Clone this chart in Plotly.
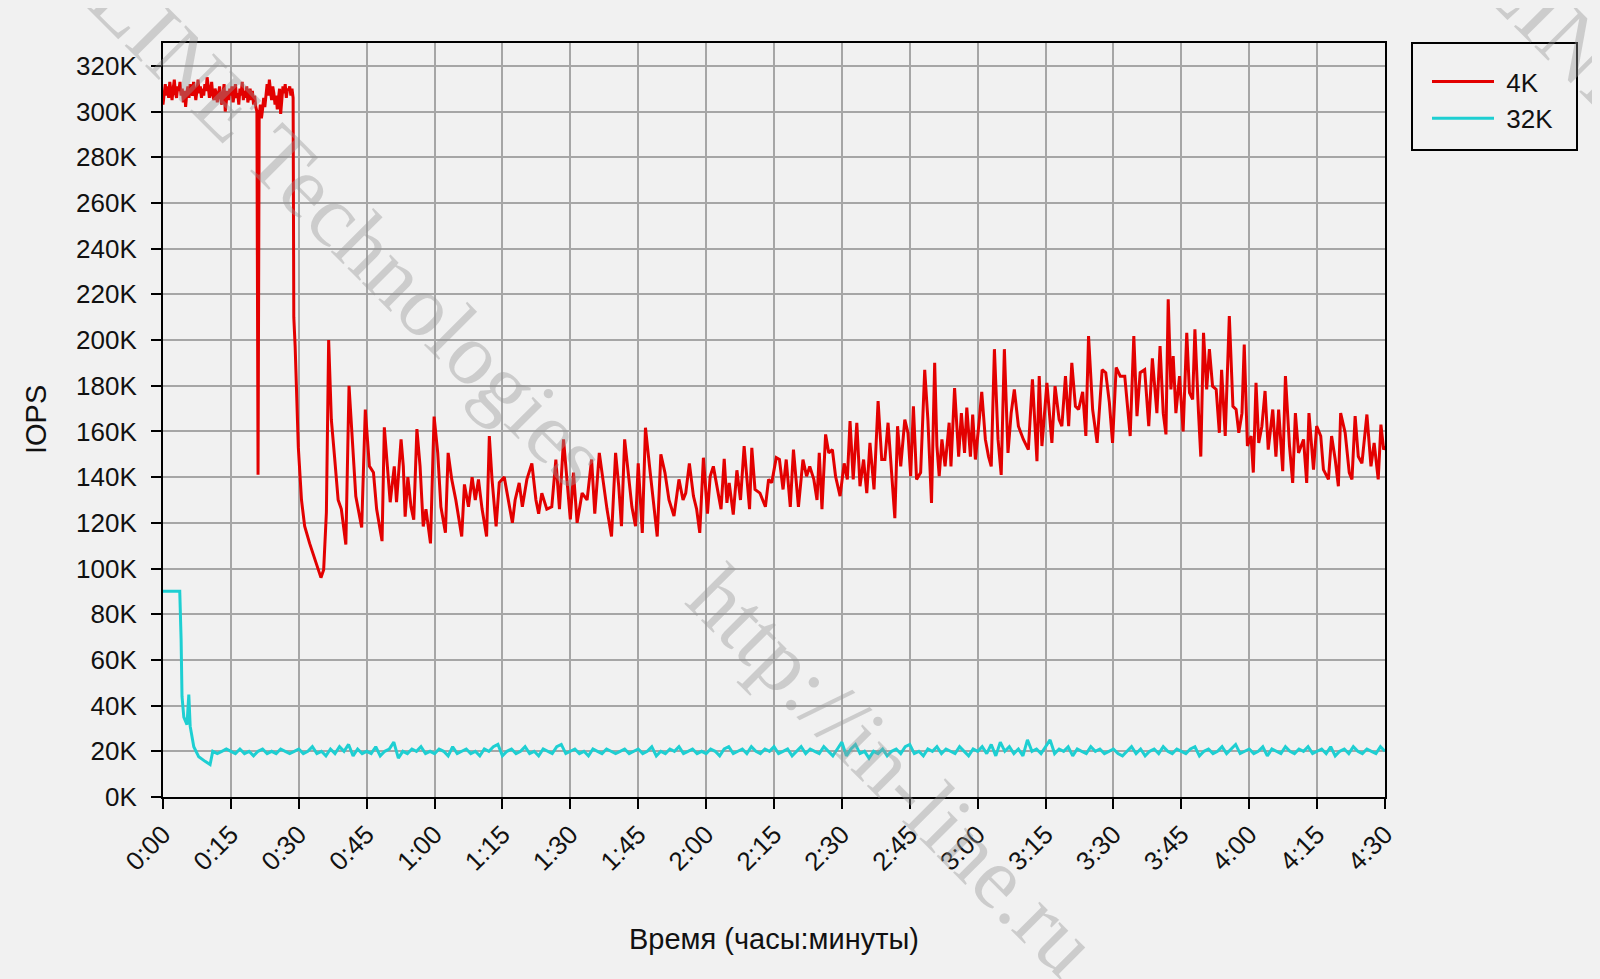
import plotly.graph_objects as go

# ---------------- data ----------------
tick_minutes = [0, 15, 30, 45, 60, 75, 90, 105, 120, 135, 150, 165, 180, 195, 210, 225, 240, 255, 270]
tick_labels = ["0:00", "0:15", "0:30", "0:45", "1:00", "1:15", "1:30", "1:45", "2:00", "2:15",
               "2:30", "2:45", "3:00", "3:15", "3:30", "3:45", "4:00", "4:15", "4:30"]
y_ticks = [0, 20, 40, 60, 80, 100, 120, 140, 160, 180, 200, 220, 240, 260, 280, 300, 320]
y_labels = ["0K", "20K", "40K", "60K", "80K", "100K", "120K", "140K", "160K", "180K", "200K",
            "220K", "240K", "260K", "280K", "300K", "320K"]

# 4K series, first part: one reading every 0.25 min from 0:00 (IOPS, thousands)
iops_4k_top = [
    303, 309, 312, 307, 311, 306, 313, 309, 305, 310, 314, 308, 306, 311, 309, 313, 307, 310, 304, 309,
    302, 308, 311, 306, 312, 309, 307, 313, 310, 305, 309, 314, 308, 311, 306, 310, 307, 312, 309, 315,
    311, 306, 309, 313, 307, 305, 310, 308, 304, 309, 311, 306, 303, 308, 312, 300, 306, 309, 305, 310,
    307, 311, 304, 309, 312, 306, 308, 303, 310, 307, 313, 305, 309, 306, 311, 304, 308, 310, 305, 309,
    303, 307, 302, 300, 141, 298, 303, 297, 301, 306, 302, 309, 312, 307, 314, 309, 305, 311, 308, 303,
    307, 301, 306, 310, 299, 305, 311, 308, 312, 306, 310, 309, 311, 307, 310, 306,
]
minutes_4k_top = [i * 0.25 for i in range(len(iops_4k_top))]

# 4K series, rest: time (minutes) and IOPS (thousands)
minutes_4k_rest = [
    28.9,
    29.2, 29.9, 30.6, 31.3, 32.4, 33.5, 34.9, 35.5, 36.1, 36.6, 37.2, 37.9, 38.7, 39.4, 40.4, 41.1,
    41.9, 42.6, 43.9, 44.7, 45.6, 46.5, 47.2, 48.4, 48.9, 49.6, 50.2, 51.1, 51.6, 52.6, 53.1, 53.5,
    54.1, 54.8, 55.4, 56.1, 56.8, 57.5, 58.1, 59.1, 59.9, 60.7, 61.4, 62.4, 63.0, 63.8, 64.7, 66.0,
    66.6, 67.5, 68.3, 69.0, 69.7, 70.5, 71.5, 72.1, 72.7, 73.6, 74.3, 75.4,
    76.3, 77.2, 77.8, 78.7, 79.4, 80.4, 81.5, 82.4, 83.0, 83.7, 84.8, 85.9, 86.8, 87.6, 88.5, 89.3,
    90.0, 90.7, 91.5, 92.6, 93.7, 94.7, 95.4, 96.4, 97.4, 98.1, 99.1, 100.0, 100.7, 101.3, 102.0,
    102.8, 103.6, 104.4, 105.0, 105.9, 106.6, 107.5, 108.5, 109.2, 110.0, 110.9, 111.8, 112.9,
    114.0, 114.9, 115.5, 116.3, 117.2, 117.9, 118.6, 119.4, 120.3, 120.9, 121.6, 122.3, 123.3,
    124.0, 124.6, 125.1, 126.0, 126.8, 127.6, 128.4, 129.1, 129.6, 130.1, 130.8, 131.9, 133.1,
    133.8, 134.5, 135.5, 136.2, 137.0, 137.7, 138.6, 139.3, 140.4, 141.4, 142.2, 142.9, 143.8,
    144.5, 145.0, 145.6, 146.4, 147.1, 147.9, 148.6, 149.6, 150.5, 151.2, 151.8, 152.5, 153.3,
    154.0, 154.8, 155.5, 156.2, 157.1, 158.0, 158.8, 159.5, 160.2, 161.0, 161.7, 162.3, 163.0,
    163.9, 164.6, 165.2, 165.8, 166.5, 167.4, 168.3, 169.0, 169.8, 170.5,
    171.0, 171.5, 172.1, 172.8, 173.7, 174.1, 174.9, 175.8, 176.4, 177.1, 177.6, 178.4, 178.9,
    179.5, 180.3, 180.9, 181.7, 182.4, 183.0, 183.7, 184.5, 185.2, 185.9, 186.7, 187.4, 188.1,
    189.0, 190.1, 191.2, 192.1, 193.1, 193.6, 194.2, 195.3, 196.4, 197.1, 198.0, 198.6, 199.4,
    200.1, 200.8, 201.6, 202.3, 203.2, 203.9, 204.5, 205.4, 206.4, 207.5, 208.3, 209.1, 209.8,
    210.6, 211.5, 212.5, 213.7, 214.5, 215.2, 215.9, 216.9, 217.8, 218.6,
    219.6, 220.3, 221.0, 221.6, 222.1, 222.7, 223.2, 223.8, 224.6, 225.4, 226.2, 226.8, 227.5,
    228.0, 228.8, 229.3, 229.9, 230.6, 231.2, 231.9, 232.7, 233.4, 233.9, 234.7, 235.6, 236.4,
    237.1, 237.7, 238.4, 238.9, 239.6, 240.4, 240.9, 241.5, 242.1, 242.8, 243.5, 244.2, 245.2,
    245.9, 246.5, 247.4, 248.0, 248.9, 249.6, 250.2, 250.9, 252.0, 252.7, 253.2, 254.2, 254.9,
    255.8, 256.4, 257.5, 258.2, 259.0, 259.7, 260.2, 261.2, 262.1, 262.7, 263.4, 264.1, 264.9,
    266.0, 266.9, 267.6, 268.5, 269.1, 269.7, 270.0,
]
iops_4k_rest = [
    210,
    197, 153, 130, 118.5, 111, 104, 96, 99.5, 124.5, 200, 165, 149, 130, 126, 110.5, 180,
    153.5, 131.6, 118, 169.6, 144.8, 142, 126, 112, 161.8, 142, 129, 144.7, 129, 156.5, 144.7, 122.7,
    140, 127, 121.4, 161, 144.7, 118.4, 126, 111, 166.5, 150.6, 127, 115.7, 150.6, 139, 130, 114,
    136.8, 127, 140, 130, 139, 126, 114, 158, 139, 118.4, 137.6, 140,
    130, 120, 130, 137.5, 127, 139, 146, 130, 124, 133, 126, 127, 147.7, 126, 156.5, 136,
    121.5, 142, 120, 133, 130, 147.7, 124, 150.6, 136, 126, 114, 150.6, 136, 118.5, 156.5,
    142, 127, 118.5, 146, 115.6, 161.6, 144.7, 126, 114, 150, 142, 130, 123,
    139, 130, 133, 146, 131.7, 126, 115.6, 148.5, 124, 140.4, 144.7, 137.5, 126,
    148, 128.7, 137.5, 123.6, 143, 130, 153.6, 136, 126, 152.8, 134.6, 133, 127,
    139, 137.5, 148.5, 147.7, 134.6, 147.7, 127, 152, 127, 147.7, 140.4, 144.7, 139,
    130, 150.6, 126, 158.7, 150.6, 152, 140.4, 131.7, 146, 139, 164.5, 139, 163.8,
    136, 147.7, 133, 155, 134.6, 173.3, 147.7, 147.7, 163.8, 139, 122, 162.3, 144.7,
    165.2, 159.4, 140.4, 171, 139, 142, 187, 165.2, 128.7, 190,
    153.6, 140.4, 156.5, 144.7, 163.8, 144.7, 179, 149, 168, 150.6, 170.4, 149, 167.4,
    147.7, 163.8, 177.3, 156.5, 149, 144.7, 196, 156.5, 141, 196, 150.6, 168, 178.4,
    162.3, 156.5, 152, 182.8, 147, 184.2, 153.6, 181.3, 155, 179.8, 165.2, 162.3, 184.2,
    162.3, 190, 171, 169.6, 177.3, 158, 201.7, 169.6, 155, 187, 185.7, 172.6, 155,
    188, 184.2, 184.2, 158, 201.7, 166.7, 185.7, 187, 162.3, 192,
    168, 197.4, 168, 158.7, 217.8, 178.4, 193, 168, 184.2, 160, 203.2, 177, 174,
    204.7, 168, 149, 203.2, 178.4, 196, 179.8, 178.4, 159.4, 187, 158, 210.5, 171,
    169.6, 159.4, 168, 198, 153.6, 158, 142, 181.3, 155, 162.3, 177.7, 152, 169.6,
    149, 169.6, 142.6, 184.2, 153.6, 137.5, 168, 150.6, 156.5, 137.5, 168, 143.3, 162.3,
    158, 143.3, 139, 158, 147.7, 136, 168, 159.4, 142, 139, 166.7, 149, 146,
    167.4, 144.7, 155, 139, 163, 152, 153.6,
]
minutes_4k = minutes_4k_top + minutes_4k_rest
iops_4k = iops_4k_top + iops_4k_rest

# 32K series: start-up section, then one reading per minute from 0:11 to 4:30
minutes_32k_start = [0.0, 3.7, 4.0, 4.2, 4.6, 5.3, 5.7, 6.0, 6.8, 7.9, 9.3, 10.4]
iops_32k_start = [90, 90, 69, 44, 35, 31.7, 44.8, 31, 22, 17.6, 15.6, 14.2]
iops_32k_per_minute = [
    20, 19, 20, 21,
    20, 19, 21, 19, 20, 18, 20, 21, 19, 20, 19, 21, 20, 19, 20,
    21, 19, 20, 22, 19, 20, 18, 21, 19, 22, 20, 23, 18, 21, 19,
    20, 19, 22, 18, 20, 21, 24, 17, 20, 19, 21, 20, 22, 19, 20,
    19, 21, 20, 18, 22, 19, 20, 21, 19, 20, 18, 21, 20, 22, 23,
    18, 20, 21, 19, 20, 22, 19, 20, 18, 21, 20, 19, 22, 23, 19,
    20, 21, 19, 20, 18, 21, 20, 19, 21, 20, 19, 20, 21, 19, 20,
    21, 19, 20, 22, 18, 20, 19, 21, 20, 22, 19, 20, 21, 19, 20,
    19, 21, 20, 18, 21, 22, 19, 20, 21, 19, 22, 20, 19, 21, 20,
    22, 19, 20, 21, 18, 20, 22, 19, 21, 20, 19, 22, 20, 18, 21,
    24, 18, 21, 23, 19, 20, 17, 20, 19, 21, 18, 20, 21, 19, 22,
    23, 19, 20, 18, 21, 20, 22, 19, 21, 20, 19, 22, 20, 18, 21,
    20, 22, 19, 23, 18, 24, 20, 22, 19, 21, 18, 25, 20, 21, 19,
    22, 25, 19, 21, 20, 22, 18, 21, 20, 19, 22, 20, 21, 19, 20,
    21, 19, 18, 20, 22, 19, 21, 18, 20, 21, 19, 22, 20, 19, 21,
    20, 19, 21, 22, 18, 20, 21, 19, 20, 22, 19, 21, 23, 19, 20,
    21, 19, 20, 22, 18, 21, 20, 19, 22, 20, 19, 21, 20, 22, 19,
    20, 21, 19, 22, 18, 20, 21, 19, 22, 20, 19, 21, 20, 19, 22,
    20,
]
minutes_32k = minutes_32k_start + list(range(11, 11 + len(iops_32k_per_minute)))
iops_32k = iops_32k_start + iops_32k_per_minute

# ---------------- figure ----------------
BG = "#f1f1f1"
FONT = "Arial, Liberation Sans, sans-serif"
RED = "#e30000"
CYAN = "#1ecfd2"

# plot area in page pixels (reference): left 163, right 1385, top 43, bottom 797
PL, PR, PT, PB = 163, 1385, 43, 797
PW, PH = PR - PL, PB - PT
def px(x):
    return (x - PL) / PW
def py(y):
    return (PB - y) / PH

fig = go.Figure()
fig.add_trace(go.Scatter(x=minutes_4k, y=iops_4k, mode="lines", name="\u00a04K",
                         line=dict(color=RED, width=3)))
fig.add_trace(go.Scatter(x=minutes_32k, y=iops_32k, mode="lines", name="\u00a032K",
                         line=dict(color=CYAN, width=3)))

axis_common = dict(showline=True, linecolor="black", linewidth=2, mirror=True,
                   showgrid=True, gridcolor="#a6a6a6", gridwidth=2,
                   ticks="outside", ticklen=10, tickwidth=2, tickcolor="black",
                   tickfont=dict(family=FONT, size=26, color="#111111"), zeroline=False)

fig.update_xaxes(range=[0, 270], tickmode="array", tickvals=tick_minutes, ticktext=tick_labels,
                 tickangle=-45, **axis_common)
fig.update_yaxes(range=[0, 330], tickmode="array", tickvals=y_ticks, ticktext=y_labels,
                 ticklabelstandoff=9, **axis_common)

# watermark
WM = dict(family="Liberation Serif, Times New Roman, serif", size=88, color="rgba(150,150,150,0.4)")
for txt, cx, cy in [("IN-LINE Technologies", 305, 185),
                    ("http://in-line.ru", 893, 770),
                    ("IN-LINE Technologies", 1695, 165)]:
    fig.add_annotation(text=txt, xref="paper", yref="paper", x=px(cx), y=py(cy),
                       xanchor="center", yanchor="middle", showarrow=False,
                       textangle=45, font=WM)

# axis titles
fig.add_annotation(text="Время (часы:минуты)", xref="paper", yref="paper",
                   x=0.5, y=py(939), xanchor="center", yanchor="middle", showarrow=False,
                   font=dict(family=FONT, size=29, color="#111111"))
fig.add_annotation(text="IOPS", xref="paper", yref="paper",
                   x=px(36), y=0.5, xanchor="center", yanchor="middle", showarrow=False,
                   textangle=-90, font=dict(family=FONT, size=29, color="#111111"))

# legend frame
fig.add_shape(type="rect", xref="paper", yref="paper",
              x0=px(1412), x1=px(1577), y0=py(150), y1=1.0,
              line=dict(color="black", width=2), fillcolor="rgba(0,0,0,0)")

# page body has an 8px margin: shift the figure's plot area accordingly
OFF = 8
fig.update_layout(
    width=1600, height=979,
    paper_bgcolor=BG, plot_bgcolor=BG,
    margin=dict(l=PL - OFF, r=1600 - PL + OFF - PW, t=PT - OFF, b=979 - PT + OFF - PH),
    showlegend=True,
    legend=dict(x=px(1427), y=py(58), xanchor="left", yanchor="top",
                bgcolor="rgba(0,0,0,0)", borderwidth=0, itemwidth=62,
                font=dict(family=FONT, size=26, color="#111111"), tracegroupgap=0),
)

fig.write_html("out.html",
               post_script="document.body.style.backgroundColor='%s';"
                           "document.documentElement.style.backgroundColor='%s';" % (BG, BG))
